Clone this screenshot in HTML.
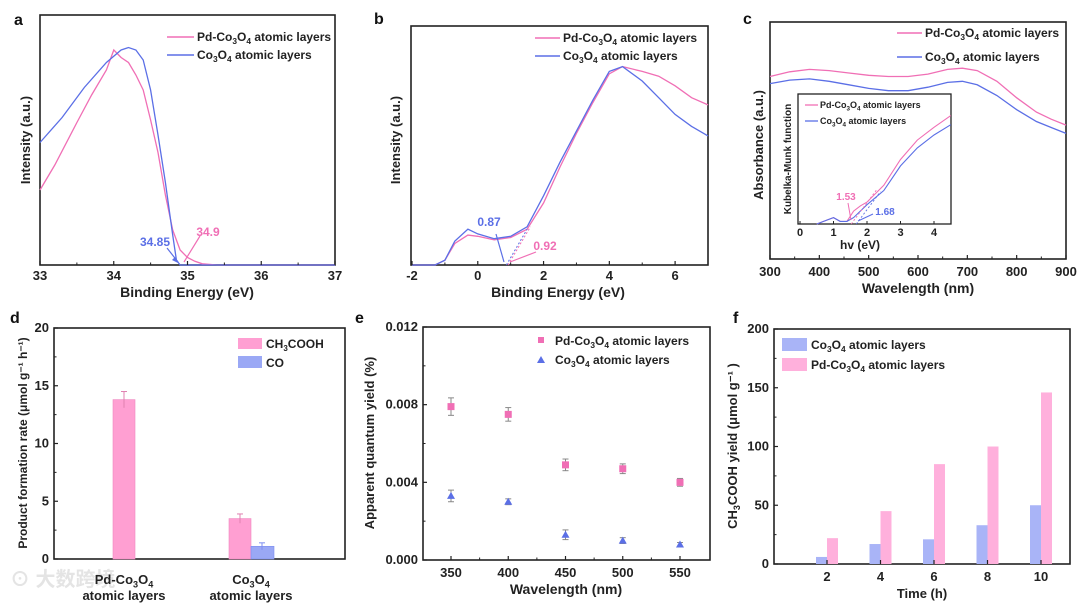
<!DOCTYPE html>
<html><head><meta charset="utf-8">
<style>
html,body{margin:0;padding:0;background:#fff;}
svg{display:block;font-family:"Liberation Sans","Noto Sans CJK SC",sans-serif;font-weight:bold;}
</style></head>
<body>
<svg id="fig" width="1080" height="606" viewBox="0 0 1080 606" xmlns="http://www.w3.org/2000/svg">
<text x="10" y="586" font-size="20" fill="#e4e4e4">⊙ 大数跨境</text>
</svg>
<script>
// ---------- Panel a data ----------
const aX_pd = [33,33.2,33.5,33.7,33.9,34.0,34.1,34.2,34.3,34.4,34.5,34.6,34.7,34.8,34.85,34.9,35.0,35.1,35.2,35.4,36,37];
const aY_pd = [30,40,57,68,78,86,83,81,76,70,58,45,28,14,10,6,3,1.5,0.5,0,0,0];
const aX_co = [33,33.3,33.6,33.9,34.1,34.2,34.3,34.4,34.5,34.6,34.7,34.8,34.85,34.9,35,37];
const aY_co = [49,59,71,81,86,87,86,82,70,52,33,12,2,0,0,0];
const aTicks = [33,34,35,36,37];
// ---------- Panel b data ----------
const bX = [-2,-1.3,-1,-0.7,-0.3,0,0.5,1,1.5,2,2.5,3,3.5,4,4.4,5,5.5,6,6.5,7];
const bY_co = [0,0,2,10,15,13,11,12,16,29,43,56,69,81,83,77,70,63,58,54];
const bY_pd = [0,0,2,9,12.5,12,10.5,11.5,15,26,41,55,68,80,83,81,79,75,70,67];
const bTicks = [-2,0,2,4,6];
// ---------- Panel c data ----------
const cX = [300,340,380,420,460,500,540,580,620,660,690,720,760,800,840,870,900];
const cY_pd = [77,79,80,79.5,78.5,77.5,77,77,78,80,80.5,79.5,75,68,62,59,56.5];
const cY_co = [74,75.5,76,75,73.5,72,71,71,72.5,74.5,75,73.5,69,63,58,55.5,53];
const cTicks = [300,400,500,600,700,800,900];
const ciX = [0.5,0.8,1.0,1.2,1.4,1.6,1.8,2.0,2.5,3.0,3.5,4.0,4.5];
const ciY_pd = [0,0.03,0.05,0.02,0.02,0.1,0.14,0.17,0.3,0.5,0.65,0.75,0.84];
const ciY_co = [0,0.03,0.05,0.02,0.02,0.05,0.1,0.15,0.26,0.45,0.59,0.69,0.77];
const ciTicks = [0,1,2,3,4];
// ---------- Panel d data ----------
const dGroups = ["Pd-Co3O4","Co3O4"];
const dCH3COOH = [13.8,3.5];
const dCH3COOHerr = [0.7,0.4];
const dCO = [null,1.1];
const dCOerr = [null,0.3];
const dTicks = [0,5,10,15,20];
// ---------- Panel e data ----------
const eX = [350,400,450,500,550];
const eY_pd = [0.0079,0.0075,0.0049,0.0047,0.0040];
const eErr_pd = [0.00045,0.00035,0.0003,0.00025,0.0002];
const eY_co = [0.0033,0.0030,0.0013,0.0010,0.0008];
const eErr_co = [0.0003,0.00015,0.00025,0.00015,0.0001];
const eYTicks = ["0.000","0.004","0.008","0.012"];
const eXTicks = [350,400,450,500,550];
// ---------- Panel f data ----------
const fX = [2,4,6,8,10];
const fCo = [6,17,21,33,50];
const fPd = [22,45,85,100,146];
const fYTicks = [0,50,100,150,200];

const PINK = "#f06fb5", BLUE = "#5b6fe6", PINKF = "#ff9fd2", BLUEF = "#9aa8f5";
const NS = "http://www.w3.org/2000/svg";
const svg = document.getElementById('fig');
function el(tag, attrs, parent){const e=document.createElementNS(NS,tag);for(const k in attrs)e.setAttribute(k,attrs[k]);(parent||svg).appendChild(e);return e;}
function lin(d0,d1,r0,r1){return v=>r0+(v-d0)/(d1-d0)*(r1-r0);}
function txt(x,y,s,size,anchor,fill,parent){const t=el('text',{x:x,y:y,'font-size':size,'text-anchor':anchor||'start',fill:fill||'#222'},parent);t.textContent=s;return t;}
function co3o4(parent,x,y,size,prefix,suffix,anchor){
  const t=el('text',{x:x,y:y,'font-size':size,'text-anchor':anchor||'start',fill:'#222'},parent);
  const parts=[[prefix+"Co",0],["3",1],["O",0],["4",1],[suffix,0]];
  parts.forEach(p=>{if(!p[0])return;const s=el('tspan',{},t);if(p[1]){s.setAttribute('font-size',size*0.7);s.setAttribute('dy',size*0.25);}else if(t.childNodes.length>1){s.setAttribute('dy',-size*0.25);}s.textContent=p[0];});
  return t;
}
function box(x0,y0,x1,y1,name){const r=el('rect',{x:x0,y:y0,width:x1-x0,height:y1-y0,fill:'none',stroke:'#222','stroke-width':1.6});

return r;}
function pathOf(xs,ys,sx,sy){return xs.map((v,i)=>(i?'L':'M')+sx(v).toFixed(1)+','+sy(ys[i]).toFixed(1)).join(' ');}
function series(xs,ys,sx,sy,color,name,w){const p=el('path',{d:pathOf(xs,ys,sx,sy),fill:'none',stroke:color,'stroke-width':w||1.3});

return p;}
function xTicks(ticks,sx,yb,len,labelY,size,minor){ticks.forEach(t=>{el('line',{x1:sx(t),x2:sx(t),y1:yb,y2:yb-len,stroke:'#222','stroke-width':1.2});const l=txt(sx(t),labelY,String(t),size,'middle');

});
if(minor)minor.forEach(t=>el('line',{x1:sx(t),x2:sx(t),y1:yb,y2:yb-2.5,stroke:'#222','stroke-width':1}));}
function yTicks(ticks,sy,xl,len,labelX,size,labels){ticks.forEach((t,i)=>{el('line',{x1:xl,x2:xl+len,y1:sy(t),y2:sy(t),stroke:'#222','stroke-width':1.2});const l=txt(labelX,sy(t)+4,labels?labels[i]:String(t),size,'end');

});}
function rotText(x,y,s,size){const t=el('text',{x:0,y:0,'font-size':size,'text-anchor':'middle',fill:'#222',transform:`translate(${x},${y}) rotate(-90)`});t.textContent=s;return t;}
function legLine(x0,x1,y,color,tx,size,prefix){el('line',{x1:x0,x2:x1,y1:y,y2:y,stroke:color,'stroke-width':1.4});const t=co3o4(svg,tx,y+4,size,prefix," atomic layers");

}

// ===== Panel a =====
(function(){
const sx=lin(33,37,40,335), sy=lin(0,100,265,15);
box(40,15,335,265,'panel-a-frame');
txt(14,25,'a',16,'start','#111');
series(aX_pd,aY_pd,sx,sy,PINK,'line-pd-co3o4-a');
series(aX_co,aY_co,sx,sy,BLUE,'line-co3o4-a');
xTicks(aTicks,sx,265,4,280,13,[33.5,34.5,35.5,36.5]);
const xt=txt(187,297,'Binding Energy (eV)',14,'middle');

const yt=rotText(30,140,'Intensity (a.u.)',13);

legLine(167,194,37,PINK,197,12,'Pd-');
legLine(167,194,55,BLUE,197,12,'');
el('line',{x1:167,y1:248,x2:178,y2:262,stroke:BLUE,'stroke-width':1.2});
el('path',{d:'M178,263 l-6,-3 l3,-3 z',fill:BLUE});
el('line',{x1:200,y1:236,x2:184,y2:262,stroke:PINK,'stroke-width':1.2});
txt(155,246,'34.85',12,'middle',BLUE);
txt(208,236,'34.9',12,'middle',PINK);
})();

// ===== Panel b =====
(function(){
const sx=lin(-2,7,412,708), sy=lin(0,100,265,26);
box(411,26,708,265,'panel-b-frame');
txt(374,24,'b',16,'start','#111');
series(bX,bY_pd,sx,sy,PINK,'line-pd-co3o4-b');
series(bX,bY_co,sx,sy,BLUE,'line-co3o4-b');
el('line',{x1:sx(0.87),y1:265,x2:sx(1.5),y2:sy(15),stroke:BLUE,'stroke-width':1,'stroke-dasharray':'2,2'});
el('line',{x1:sx(0.92),y1:265,x2:sx(1.6),y2:sy(16),stroke:PINK,'stroke-width':1,'stroke-dasharray':'2,2'});
xTicks(bTicks,sx,265,4,280,13,[-1,1,3,5,7]);
const xt=txt(558,297,'Binding Energy (eV)',14,'middle');

const yt=rotText(400,140,'Intensity (a.u.)',13);

legLine(535,560,38,PINK,563,12,'Pd-');
legLine(535,560,56,BLUE,563,12,'');
el('line',{x1:496,y1:234,x2:504,y2:262,stroke:BLUE,'stroke-width':1.2});
el('line',{x1:536,y1:252,x2:510,y2:262,stroke:PINK,'stroke-width':1.2});
txt(489,226,'0.87',12,'middle',BLUE);
txt(545,250,'0.92',12,'middle',PINK);
})();

// ===== Panel c =====
(function(){
const sx=lin(300,900,770,1066), sy=lin(0,100,259,22);
box(770,22,1066,259,'panel-c-frame');
txt(743,24,'c',16,'start','#111');
series(cX,cY_pd,sx,sy,PINK,'line-pd-co3o4-c');
series(cX,cY_co,sx,sy,BLUE,'line-co3o4-c');
xTicks(cTicks,sx,259,4,276,13,[350,450,550,650,750,850]);
const xt=txt(918,293,'Wavelength (nm)',14,'middle');

const yt=rotText(763,145,'Absorbance (a.u.)',13);

legLine(897,922,33,PINK,925,12,'Pd-');
legLine(897,922,57,BLUE,925,12,'');
// inset
const ix=lin(0,4,800,934), iy=lin(0,1,224,95);
const ib=el('rect',{x:798,y:94,width:153,height:130,fill:'#fff',stroke:'#222','stroke-width':1.3});


series(ciX,ciY_pd,ix,iy,PINK,'inset-line-pd-co3o4',1.1);
series(ciX,ciY_co,ix,iy,BLUE,'inset-line-co3o4',1.1);
el('line',{x1:ix(1.53),y1:224,x2:ix(2.3),y2:iy(0.27),stroke:PINK,'stroke-width':0.9,'stroke-dasharray':'2,2'});
el('line',{x1:ix(1.68),y1:224,x2:ix(2.4),y2:iy(0.25),stroke:BLUE,'stroke-width':0.9,'stroke-dasharray':'2,2'});
ciTicks.forEach(t=>{el('line',{x1:ix(t),x2:ix(t),y1:224,y2:221,stroke:'#222'});txt(ix(t),236,String(t),11,'middle');});
txt(860,249,'hv (eV)',12,'middle');
rotText(791,159,'Kubelka-Munk function',10);
el('line',{x1:805,x2:818,y1:105,y2:105,stroke:PINK,'stroke-width':1.3});
co3o4(svg,820,108,9,'Pd-',' atomic layers');
el('line',{x1:805,x2:818,y1:121,y2:121,stroke:BLUE,'stroke-width':1.3});
co3o4(svg,820,124,9,'',' atomic layers');
txt(846,200,'1.53',10,'middle',PINK);
el('line',{x1:848,y1:203,x2:851,y2:220,stroke:PINK,'stroke-width':1});
txt(885,215,'1.68',10,'middle',BLUE);
el('line',{x1:873,y1:214,x2:858,y2:221,stroke:BLUE,'stroke-width':1});
})();

// ===== Panel d =====
(function(){
const sy=lin(0,20,559,328);
const gx=[124,251];
box(54,328,345,559,'panel-d-frame');
txt(10,323,'d',16,'start','#111');
dCH3COOH.forEach((v,i)=>{
 const r=el('rect',{x:gx[i]-(i?22:11),y:sy(v),width:22,height:559-sy(v),fill:PINKF,stroke:'#ee88c0','stroke-width':0.6});
 
 
 const cx=gx[i]-(i?11:0);
 el('line',{x1:cx,x2:cx,y1:sy(v+dCH3COOHerr[i]),y2:sy(v-dCH3COOHerr[i]),stroke:'#e080b0','stroke-width':1});
 el('line',{x1:cx-3,x2:cx+3,y1:sy(v+dCH3COOHerr[i]),y2:sy(v+dCH3COOHerr[i]),stroke:'#e080b0','stroke-width':1});
});
dCO.forEach((v,i)=>{ if(v===null)return;
 const r=el('rect',{x:gx[i],y:sy(v),width:23,height:559-sy(v),fill:BLUEF,stroke:'#7d8ef0','stroke-width':0.6});
 
 
 const cx=gx[i]+11;
 el('line',{x1:cx,x2:cx,y1:sy(v+dCOerr[i]),y2:sy(v-dCOerr[i]),stroke:'#7d8ef0','stroke-width':1});
 el('line',{x1:cx-3,x2:cx+3,y1:sy(v+dCOerr[i]),y2:sy(v+dCOerr[i]),stroke:'#7d8ef0','stroke-width':1});
});
yTicks(dTicks,sy,54,4,49,13);
[2.5,7.5,12.5,17.5].forEach(t=>el('line',{x1:54,x2:56.5,y1:sy(t),y2:sy(t),stroke:'#222'}));
co3o4(svg,124,584,13,'Pd-','','middle');
txt(124,600,'atomic layers',13,'middle');
co3o4(svg,251,584,13,'','','middle');
txt(251,600,'atomic layers',13,'middle');
const yt=rotText(27,443,'Product formation rate (μmol g⁻¹ h⁻¹)',12);

el('rect',{x:238,y:338,width:24,height:11,fill:PINKF});
const l1=el('text',{x:266,y:348,'font-size':12,fill:'#222'});l1.innerHTML='CH<tspan font-size="8" dy="3">3</tspan><tspan dy="-3">COOH</tspan>';
el('rect',{x:238,y:356,width:24,height:12,fill:BLUEF});
txt(266,367,'CO',12);
})();

// ===== Panel e =====
(function(){
const sx=lin(350,550,451,680), sy=lin(0,0.012,560,327);
box(423,327,710,560,'panel-e-frame');
txt(355,323,'e',16,'start','#111');
yTicks(eYTicks.map(Number),sy,423,4,418,13,eYTicks);
[0.002,0.006,0.01].forEach(t=>el('line',{x1:423,x2:425.5,y1:sy(t),y2:sy(t),stroke:'#222'}));
xTicks(eXTicks,sx,560,4,577,13,[375,425,475,525]);
const xt=txt(566,594,'Wavelength (nm)',14,'middle');

const yt=rotText(374,443,'Apparent quantum yield (%)',13);

eX.forEach((x,i)=>{
 const X=sx(x);
 el('line',{x1:X,x2:X,y1:sy(eY_pd[i]+eErr_pd[i]),y2:sy(eY_pd[i]-eErr_pd[i]),stroke:'#888','stroke-width':1});
 el('line',{x1:X-3,x2:X+3,y1:sy(eY_pd[i]+eErr_pd[i]),y2:sy(eY_pd[i]+eErr_pd[i]),stroke:'#888'});
 el('line',{x1:X-3,x2:X+3,y1:sy(eY_pd[i]-eErr_pd[i]),y2:sy(eY_pd[i]-eErr_pd[i]),stroke:'#888'});
 const m=el('rect',{x:X-3.5,y:sy(eY_pd[i])-3.5,width:7,height:7,fill:PINK});
 
 
 el('line',{x1:X,x2:X,y1:sy(eY_co[i]+eErr_co[i]),y2:sy(eY_co[i]-eErr_co[i]),stroke:'#888','stroke-width':1});
 el('line',{x1:X-3,x2:X+3,y1:sy(eY_co[i]+eErr_co[i]),y2:sy(eY_co[i]+eErr_co[i]),stroke:'#888'});
 el('line',{x1:X-3,x2:X+3,y1:sy(eY_co[i]-eErr_co[i]),y2:sy(eY_co[i]-eErr_co[i]),stroke:'#888'});
 const Y=sy(eY_co[i]);
 const t=el('path',{d:`M${X},${Y-4} L${X+4},${Y+3} L${X-4},${Y+3} Z`,fill:BLUE});
 
 
});
el('rect',{x:538,y:337,width:6,height:6,fill:PINK});
co3o4(svg,555,345,12,'Pd-',' atomic layers');
el('path',{d:'M541,356 L545,363 L537,363 Z',fill:BLUE});
co3o4(svg,555,364,12,'',' atomic layers');
})();

// ===== Panel f =====
(function(){
const sx=lin(2,10,827,1041), sy=lin(0,200,564,329);
box(774,329,1070,564,'panel-f-frame');
txt(733,323,'f',16,'start','#111');
fX.forEach((x,i)=>{
 const b=el('rect',{x:sx(x)-11,y:sy(fCo[i]),width:11,height:564-sy(fCo[i]),fill:'#a9b4f7'});
 
 
 const p=el('rect',{x:sx(x),y:sy(fPd[i]),width:11,height:564-sy(fPd[i]),fill:'#ffb0dc'});
 
 
});
yTicks(fYTicks,sy,774,4,769,13);
[25,75,125,175].forEach(t=>el('line',{x1:774,x2:776.5,y1:sy(t),y2:sy(t),stroke:'#222'}));
xTicks(fX,sx,564,4,581,13);
const xt=txt(922,598,'Time (h)',13,'middle');

const yt=el('text',{x:0,y:0,'font-size':13,'text-anchor':'middle',fill:'#222',transform:'translate(737,446) rotate(-90)'});
yt.innerHTML='CH<tspan font-size="9" dy="3">3</tspan><tspan dy="-3">COOH yield (μmol g⁻¹ )</tspan>';

el('rect',{x:782,y:338,width:25,height:13,fill:'#a9b4f7'});
co3o4(svg,811,349,12,'',' atomic layers');
el('rect',{x:782,y:358,width:25,height:13,fill:'#ffb0dc'});
co3o4(svg,811,369,12,'Pd-',' atomic layers');
})();
</script>
</body></html>
